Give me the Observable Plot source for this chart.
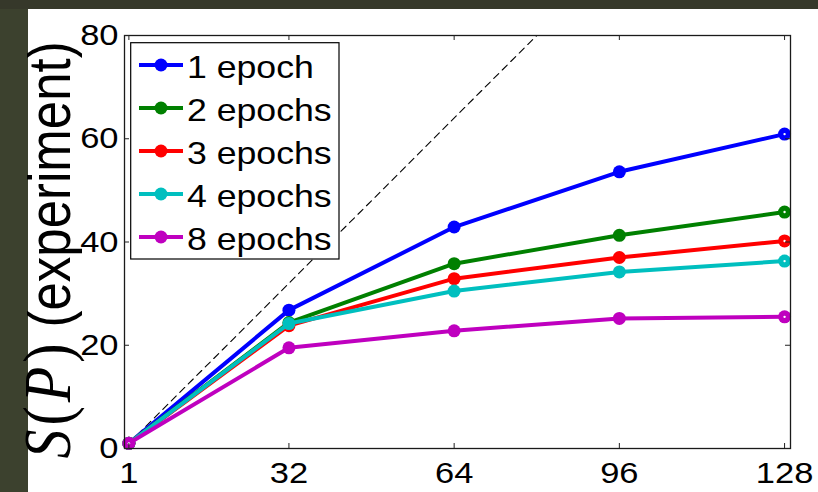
<!DOCTYPE html>
<html>
<head>
<meta charset="utf-8">
<script src="https://cdn.jsdelivr.net/npm/d3@7"></script>
<script src="https://cdn.jsdelivr.net/npm/@observablehq/plot@0.6"></script>
<style>
  html, body { margin: 0; padding: 0; }
  body { width: 818px; height: 492px; background: #3c412e; position: relative; overflow: hidden; }
  #band { position: absolute; left: 0; top: 0; width: 818px; height: 9px; background: #36382a; }
  #chart { position: absolute; left: 28px; top: 9px; width: 790px; height: 483px; background: #fff; }
</style>
</head>
<body>
<div id="band"></div>
<div id="chart"></div>
<script>
// Processor counts and measured speedup S(P) per number of training epochs
const procs = [1, 32, 64, 96, 128];
const seriesNames = ["1 epoch", "2 epochs", "3 epochs", "4 epochs", "8 epochs"];
const seriesColors = ["#0000ff", "#008000", "#ff0000", "#00bfbf", "#bf00bf"];
const speedup1 = [1, 26.8, 42.9, 53.6, 60.9];
const speedup2 = [1, 24.4, 35.8, 41.3, 45.8];
const speedup3 = [1, 23.8, 32.9, 37.0, 40.2];
const speedup4 = [1, 24.2, 30.5, 34.2, 36.3];
const speedup8 = [1, 19.5, 22.8, 25.2, 25.5];
const xTicks = [1, 32, 64, 96, 128];
const yTicks = [0, 20, 40, 60, 80];
// ideal linear speedup S(P) = P
const idealLine = [1, 80];

const allSpeedups = [speedup1, speedup2, speedup3, speedup4, speedup8];
const rows = seriesNames.flatMap((name, i) =>
  procs.map((p, j) => ({ P: p, S: allSpeedups[i][j], series: name }))
);

const W = 790, H = 483;
const mL = 96, mR = 28, mT = 26, mB = 44;
const frameW = W - mL - mR, frameH = H - mT - mB;
const tickLen = 5;
const textStretch = 1.15;
const sans = "'Liberation Sans', Arial, sans-serif";
const serif = "'Liberation Serif', 'Times New Roman', serif";

const seriesMarks = seriesNames.flatMap(name => {
  const d = rows.filter(r => r.series === name);
  return [
    Plot.line(d, { x: "P", y: "S", stroke: "series", strokeWidth: 4 }),
    Plot.dot(d, { x: "P", y: "S", fill: "series", r: 6.5 }),
    Plot.dot(d.filter(r => r.P === procs[0] || r.P === procs[procs.length - 1]),
      { x: "P", y: "S", fill: "white", r: 1.2 })
  ];
});

const chart = Plot.plot({
  width: W,
  height: H,
  marginLeft: mL, marginRight: mR, marginTop: mT, marginBottom: mB,
  style: { fontFamily: sans, background: "white", overflow: "visible" },
  x: { domain: [0.15, 129.15], ticks: xTicks },
  y: { domain: [0, 80], ticks: yTicks },
  color: { domain: seriesNames, range: seriesColors },
  marks: [
    Plot.line(idealLine, { x: d => d, y: d => d, stroke: "black", strokeWidth: 1.1, strokeDasharray: "7,5" }),
    ...seriesMarks,
    Plot.frame({ stroke: "#1a1a1a", strokeWidth: 1.3 }),
    // inward ticks on all four sides
    Plot.tickX(xTicks, { x: d => d, insetTop: frameH - tickLen, stroke: "#222" }),
    Plot.tickX(xTicks, { x: d => d, insetBottom: frameH - tickLen, stroke: "#222" }),
    Plot.tickY(yTicks, { y: d => d, insetRight: frameW - tickLen, stroke: "#222" }),
    Plot.tickY(yTicks, { y: d => d, insetLeft: frameW - tickLen, stroke: "#222" }),
    Plot.axisX(xTicks, { tickSize: 0, tickPadding: 13, fontSize: 30, label: null, fill: "black" }),
    Plot.axisY(yTicks, { tickSize: 0, tickPadding: 6, fontSize: 30, label: null, fill: "black" })
  ]
});

document.getElementById("chart").append(chart);
const svg = d3.select(chart);

// widen tick labels horizontally around their anchor
svg.selectAll('[aria-label$="tick label"] text').each(function () {
  const el = d3.select(this);
  const x = +el.attr("x") || 0, y = +el.attr("y") || 0;
  const t = el.attr("transform") || "";
  el.attr("transform", `${t} translate(${x},${y}) scale(${textStretch},1) translate(${-x},${-y})`);
});

// y-axis title: S(P) (experiment)
const yTitle = svg.append("text")
  .style("text-anchor", "middle")
  .attr("fill", "black")
  .attr("transform", `translate(42,241) rotate(-90) scale(1,${textStretch})`);
const mathPart = (s, italic, dx) => yTitle.append("tspan")
  .style("font-family", serif).style("font-size", "58px")
  .style("font-style", italic ? "italic" : "normal")
  .attr("dx", dx).text(s);
mathPart("S", true, 0);
mathPart("(", false, 4);
mathPart("P", true, 4);
mathPart(")", false, 4);
yTitle.append("tspan").style("font-family", sans).style("font-size", "51px")
  .attr("dx", 16).text("(experiment)");

// legend box in the upper-left corner of the axes
const lg = svg.append("g").attr("transform", "translate(102.7,33.7)");
lg.append("rect").attr("width", 208.3).attr("height", 216.3)
  .attr("fill", "white").attr("stroke", "black").attr("stroke-width", 1.2);
seriesNames.forEach((name, i) => {
  const cy = 22.3 + i * 43;
  const row = lg.append("g").attr("transform", `translate(0,${cy})`);
  row.append("line").attr("x1", 8.3).attr("x2", 52.3).attr("y1", 0).attr("y2", 0)
    .attr("stroke", seriesColors[i]).attr("stroke-width", 4);
  row.append("circle").attr("cx", 30.3).attr("cy", 0).attr("r", 6.5).attr("fill", seriesColors[i]);
  row.append("text").style("text-anchor", "start").style("font-size", "31px").attr("fill", "black")
    .attr("transform", `translate(56.3,12.5) scale(${textStretch},1)`)
    .text(name);
});
</script>
</body>
</html>
